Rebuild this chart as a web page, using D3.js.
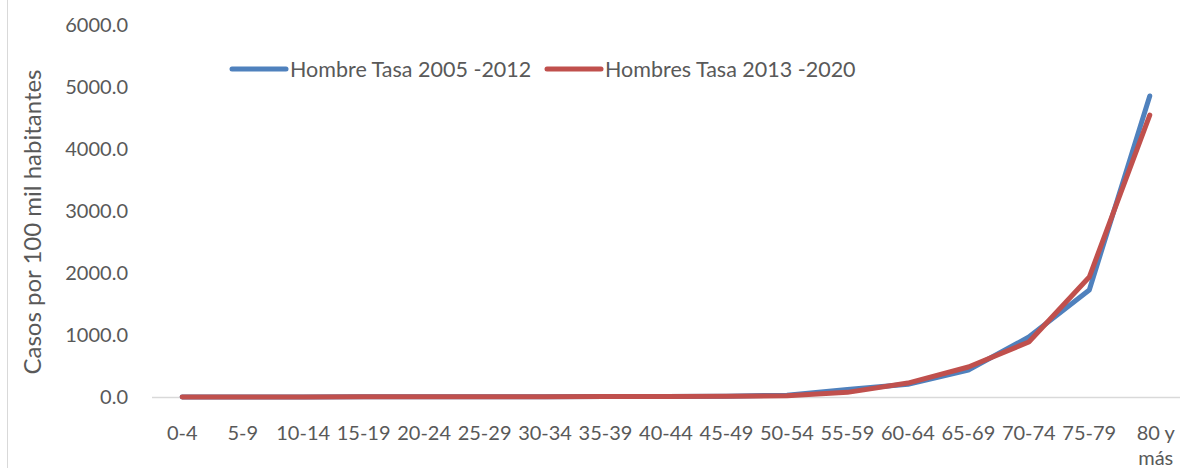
<!DOCTYPE html>
<html>
<head>
<meta charset="utf-8">
<script src="https://cdn.jsdelivr.net/npm/d3@7"></script>
<style>
  body { margin: 0; background: #fff; }
  text { font-family: Lato, "Open Sans", sans-serif; fill: #595959; }
</style>
</head>
<body>
<script>
// age groups and rates (casos por 100 mil habitantes)
var grupos = ["0-4", "5-9", "10-14", "15-19", "20-24", "25-29", "30-34", "35-39", "40-44",
  "45-49", "50-54", "55-59", "60-64", "65-69", "70-74", "75-79", "80 y más"];
var tasa0512 = [2, 1, 2, 5, 4, 4, 6, 8, 10, 14, 30, 120, 205, 435, 968, 1726, 4855];
var tasa1320 = [2, 1, 2, 5, 3, 3, 5, 7, 9, 12, 20, 75, 225, 484, 887, 1935, 4548];
var yTicks = [0, 1000, 2000, 3000, 4000, 5000, 6000];
var series = [
  { name: "Hombre Tasa 2005 -2012", values: tasa0512, color: "#4F81BD" },
  { name: "Hombres Tasa 2013 -2020", values: tasa1320, color: "#C0504D" }
];

var w = 1184, h = 472;
var mLeft = 152, mRight = 1180, mTop = 25, mBottom = 397;

var svg = d3.select("body").append("svg")
  .attr("width", w)
  .attr("height", h);

// left border of the chart area
svg.append("line")
  .attr("x1", 7.5).attr("x2", 7.5)
  .attr("y1", 0).attr("y2", 468)
  .attr("stroke", "#d9d9d9").attr("stroke-width", 1);

var x = d3.scaleBand().domain(grupos).range([mLeft, mRight]);
var y = d3.scaleLinear().domain([0, 6000]).range([mBottom, mTop]);

// y tick labels
svg.selectAll("text.ytick")
  .data(yTicks)
  .enter().append("text")
  .attr("class", "ytick")
  .attr("x", 128)
  .attr("y", function(d) { return y(d); })
  .attr("dy", "0.35em")
  .attr("text-anchor", "end")
  .style("font-size", "20px")
  .text(function(d) { return d3.format(".1f")(d); });

// baseline
svg.append("line")
  .attr("x1", mLeft).attr("x2", mRight)
  .attr("y1", y(0) + 0.5).attr("y2", y(0) + 0.5)
  .attr("stroke", "#d9d9d9").attr("stroke-width", 1.5);

// x labels, "80 y más" wraps to two lines
svg.selectAll("text.xtick")
  .data(grupos)
  .enter().append("text")
  .attr("class", "xtick")
  .attr("text-anchor", "middle")
  .style("font-size", "20px")
  .each(function(d) {
    var cx = x(d) + x.bandwidth() / 2;
    var el = d3.select(this);
    if (d == "80 y más") {
      el.append("tspan").attr("x", cx + 6).attr("y", 440).text("80 y");
      el.append("tspan").attr("x", cx + 6).attr("y", 465).text("más");
    } else {
      el.append("tspan").attr("x", cx).attr("y", 440).text(d);
    }
  });

// y axis title
svg.append("text")
  .attr("transform", "translate(41," + 222 + ") rotate(-90)")
  .attr("text-anchor", "middle")
  .style("font-size", "24px")
  .text("Casos por 100 mil habitantes");

var line = d3.line()
  .x(function(d, i) { return x(grupos[i]) + x.bandwidth() / 2; })
  .y(function(d) { return y(d); });

svg.selectAll("path.serie")
  .data(series)
  .enter().append("path")
  .attr("class", "serie")
  .attr("fill", "none")
  .attr("stroke", function(d) { return d.color; })
  .attr("stroke-width", 5)
  .attr("stroke-linecap", "round")
  .attr("stroke-linejoin", "round")
  .attr("d", function(d) { return line(d.values); });

// legend
var legX = [232, 547];
var leg = svg.selectAll("g.leg")
  .data(series)
  .enter().append("g")
  .attr("class", "leg")
  .attr("transform", function(d, i) { return "translate(" + legX[i] + ",69)"; });
leg.append("line")
  .attr("x1", 0).attr("x2", 54)
  .attr("stroke", function(d) { return d.color; })
  .attr("stroke-width", 5)
  .attr("stroke-linecap", "round");
leg.append("text")
  .attr("x", 58)
  .attr("dy", "0.35em")
  .style("font-size", "21.5px")
  .text(function(d) { return d.name; });
</script>
</body>
</html>
